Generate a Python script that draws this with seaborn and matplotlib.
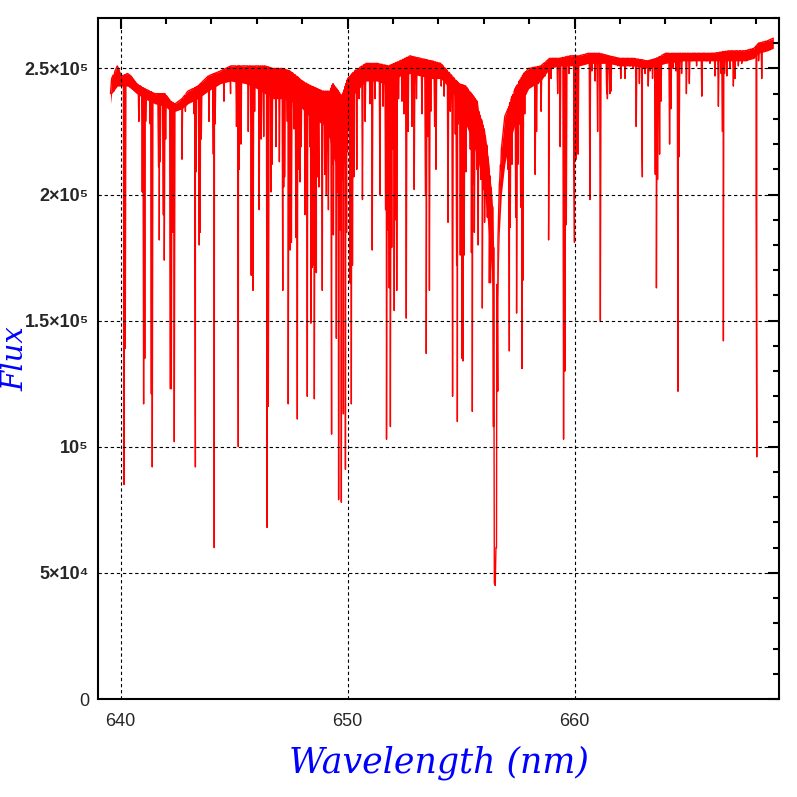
import numpy as np
import pandas as pd
import matplotlib
matplotlib.use("Agg")
import matplotlib.pyplot as plt
import seaborn as sns
from matplotlib.ticker import FixedLocator, MultipleLocator

# upper envelope of the spectrum (nm, flux in units of 1e3)
cont_wl = [639.55, 639.6, 639.85, 640.05, 640.3, 640.45, 640.7, 641.05, 641.5, 641.95,
           642.2, 642.4, 642.7, 642.96, 643.4, 643.85, 644.4, 644.85, 645.5, 646.0,
           646.35, 646.7, 647.1, 647.45, 647.75, 648.0, 648.4, 648.9, 649.2, 649.35,
           649.75, 650.0, 650.3, 650.8, 651.3, 651.8, 652.3, 652.75, 653.2, 653.7,
           654.1, 654.5, 654.9, 655.2, 655.45, 655.7, 655.77, 655.92, 656.03, 656.15,
           656.24, 656.33, 656.39, 656.43, 656.46, 656.5, 656.53, 656.555, 656.57, 656.62,
           656.68, 656.77, 656.83, 656.92, 657.06, 657.24, 657.38, 657.56, 657.75, 657.97,
           658.5, 658.9, 659.3, 659.8, 660.2, 660.6, 661.1, 661.5, 662.0, 662.6,
           663.2, 663.6, 664.0, 664.8, 665.5, 666.1, 666.8, 667.5, 667.9, 668.1,
           668.5, 668.75]
cont_flux = [240, 246, 251, 247, 248, 247, 244, 242, 240, 240,
             237, 236, 238, 241, 243, 247, 249, 251, 251, 251,
             251, 250, 250, 249, 247, 245, 243, 241, 241, 244,
             239, 246, 249, 252, 252, 251, 253, 255, 254, 253,
             252, 248, 244, 243, 240, 237, 233, 229, 225, 218,
             209, 202, 194, 179, 46, 45, 60, 60, 160, 182,
             204, 218, 223, 231, 234, 239, 242, 245, 248, 250,
             251, 254, 254, 255, 255, 256, 256, 255, 254, 254,
             253, 254, 256, 256, 256, 256, 257, 257, 258, 260,
             261, 262]
# lower edge of the solid band of blended weak lines (same wavelengths)
band_low = [236, 240, 243, 243, 243, 242, 240, 238, 236, 235,
            233, 233, 234, 236, 238, 241, 244, 245, 244, 242,
            240, 238, 238, 237, 236, 234, 230, 228, 222, 215,
            205, 225, 240, 245, 245, 243, 247, 248, 247, 246,
            246, 242, 236, 228, 222, 215, 212, 205, 200, 190,
            180, 170, 160, 140, 46, 45, 60, 60, 150, 165,
            185, 200, 205, 212, 218, 224, 228, 232, 238, 242,
            245, 250, 251, 251, 251, 252, 252, 252, 251, 251,
            250, 251, 252, 253, 253, 253, 253, 253, 254, 256,
            257, 258]

# absorption lines: centre (nm) and flux at the line bottom (1e3)
line_wl = [639.7, 639.97, 640.15, 640.2, 640.8, 640.95, 641.01, 641.06, 641.1, 641.3,
           641.35, 641.39, 641.67, 641.7, 641.74, 641.88, 641.92, 641.98, 642.19, 642.23,
           642.29, 642.36, 642.7, 642.85, 643.23, 643.29, 643.32, 643.46, 643.5, 643.55,
           643.89, 644.08, 644.12, 644.16, 644.55, 644.84, 645.1, 645.18, 645.22, 645.3,
           645.62, 645.75, 645.83, 645.9, 646.1, 646.19, 646.3, 646.45, 646.5, 646.53,
           646.62, 646.67, 646.84, 646.99, 647.14, 647.18, 647.22, 647.34, 647.38, 647.46,
           647.52, 647.63, 647.72, 647.78, 647.83, 647.9, 647.95, 648.12, 648.22, 648.27,
           648.33, 648.38, 648.44, 648.48, 648.53, 648.59, 648.62, 648.66, 648.73, 648.77,
           648.88, 648.99, 649.06, 649.15, 649.22, 649.29, 649.33, 649.37, 649.43, 649.5,
           649.55, 649.6, 649.67, 649.72, 649.77, 649.81, 649.86, 649.9, 649.95, 649.99,
           650.11, 650.16, 650.21, 650.27, 650.4, 650.5, 650.65, 650.77, 650.98, 651.08,
           651.2, 651.42, 651.56, 651.67, 651.71, 651.77, 651.83, 651.88, 651.94, 651.99,
           652.05, 652.11, 652.16, 652.24, 652.39, 652.48, 652.58, 652.66, 652.83, 652.93,
           653.03, 653.27, 653.43, 653.46, 653.54, 653.6, 653.66, 653.83, 653.89, 654.0,
           654.12, 654.25, 654.42, 654.52, 654.62, 654.74, 654.8, 654.83, 654.87, 654.96,
           655.04, 655.08, 655.13, 655.21, 655.34, 655.4, 655.45, 655.49, 655.54, 655.58,
           655.64, 655.69, 655.75, 655.8, 655.86, 655.93, 655.99, 656.03, 656.1, 656.15,
           656.24, 656.29, 656.35, 656.42, 656.61, 656.7, 656.74, 656.83, 657.06, 657.12,
           657.16, 657.24, 657.3, 657.4, 657.44, 657.5, 657.56, 657.62, 657.68, 657.72,
           657.8, 657.86, 658.05, 658.26, 658.32, 658.4, 658.52, 658.7, 658.85, 658.88,
           658.96, 659.25, 659.36, 659.51, 659.57, 659.63, 659.75, 659.96, 659.99, 660.06,
           660.15, 660.45, 660.67, 660.76, 660.9, 661.01, 661.13, 661.41, 661.44, 661.55,
           661.6, 661.82, 661.9, 662.03, 662.22, 662.44, 662.58, 662.71, 662.85, 662.95,
           662.98, 663.1, 663.24, 663.32, 663.43, 663.55, 663.6, 663.65, 663.74, 663.8,
           663.98, 664.18, 664.24, 664.34, 664.46, 664.55, 664.6, 664.71, 664.92, 665.05,
           665.15, 665.37, 665.6, 665.81, 665.96, 666.18, 666.33, 666.45, 666.51, 666.55,
           666.6, 666.7, 666.84, 666.99, 667.06, 667.21, 667.36, 667.58, 667.8, 667.99,
           668.02, 668.1, 668.24, 668.46]
line_flux = [241, 246, 85, 139, 229, 201, 117, 135, 229, 228,
             121, 92, 211, 182, 213, 192, 174, 222, 123, 123,
             185, 102, 214, 233, 232, 92, 209, 180, 185, 222,
             229, 216, 60, 228, 237, 240, 227, 100, 210, 220,
             225, 168, 162, 233, 194, 222, 223, 68, 116, 210,
             201, 212, 219, 213, 162, 203, 207, 229, 117, 178,
             181, 226, 183, 111, 210, 205, 219, 192, 120, 232,
             219, 149, 171, 172, 119, 176, 169, 207, 203, 233,
             162, 208, 200, 194, 224, 105, 212, 184, 215, 143,
             201, 79, 186, 78, 223, 113, 227, 91, 185, 217,
             165, 117, 172, 207, 210, 238, 198, 229, 236, 178,
             238, 200, 235, 194, 103, 186, 163, 108, 179, 218,
             154, 190, 162, 238, 237, 232, 151, 225, 227, 202,
             238, 232, 200, 137, 223, 162, 233, 227, 210, 246,
             243, 239, 189, 233, 120, 224, 172, 110, 228, 176,
             135, 134, 176, 209, 231, 218, 177, 114, 204, 185,
             224, 210, 180, 214, 206, 155, 202, 189, 208, 191,
             165, 165, 179, 108, 122, 206, 210, 224, 210, 138,
             187, 212, 231, 191, 153, 212, 228, 195, 131, 166,
             232, 240, 245, 208, 225, 244, 233, 247, 182, 240,
             246, 240, 219, 103, 130, 188, 248, 219, 181, 214,
             216, 252, 198, 249, 245, 225, 150, 240, 238, 240,
             241, 253, 251, 246, 246, 251, 250, 227, 244, 227,
             207, 248, 243, 249, 246, 208, 163, 206, 216, 237,
             252, 220, 234, 250, 249, 122, 215, 248, 240, 244,
             253, 251, 239, 253, 252, 247, 235, 248, 225, 142,
             248, 247, 250, 243, 246, 251, 252, 253, 254, 203,
             96, 253, 246, 258]

y_ticks = [0, 5e4, 1e5, 1.5e5, 2e5, 2.5e5]
y_labels = ['0', '5×10⁴', '10⁵', '1.5×10⁵', '2×10⁵', '2.5×10⁵']
x_ticks = [640, 650, 660]

# build the trace: each line is drawn as a narrow dip out of the envelope
half_w = 0.03
cw = np.array(cont_wl)
cf = np.array(cont_flux, dtype=float)
lc = np.array(line_wl)
lb = np.minimum(np.array(line_flux, dtype=float), np.interp(lc, cw, cf))
wl = np.concatenate([cw, lc - half_w, lc, lc + half_w])
fl = np.concatenate([cf, np.interp(lc - half_w, cw, cf), lb, np.interp(lc + half_w, cw, cf)])
order = np.argsort(wl, kind='stable')
df = pd.DataFrame({'wavelength': wl[order], 'flux': fl[order] * 1e3})

sns.set_style("white")
plt.rcParams['font.family'] = ['Liberation Sans', 'DejaVu Sans']

fig = plt.figure(figsize=(7.97, 7.97), dpi=100)
ax = fig.add_axes([98 / 797, 98 / 797, 681 / 797, 681 / 797])

# dense forest of weak lines shows up as a solid band under the envelope
ax.fill_between(cont_wl, np.array(band_low) * 1e3, cf * 1e3, color='red', linewidth=0)
sns.lineplot(data=df, x='wavelength', y='flux', color='red', linewidth=1.0,
             estimator=None, sort=False, ax=ax)

ax.set_xlim(639, 669)
ax.set_ylim(0, 2.7e5)

ax.xaxis.set_major_locator(FixedLocator(x_ticks))
ax.xaxis.set_minor_locator(MultipleLocator(2))
ax.set_xticklabels([str(t) for t in x_ticks], fontsize=13)
ax.yaxis.set_major_locator(FixedLocator(y_ticks))
ax.yaxis.set_minor_locator(MultipleLocator(1e4))
ax.set_yticklabels(y_labels, fontsize=13, fontweight='bold')
ax.get_yticklabels()[0].set_fontweight('normal')

ax.tick_params(which='both', direction='in', top=True, right=True, width=1.5, color='black')
ax.tick_params(which='major', length=8)
ax.tick_params(which='minor', length=4)
ax.tick_params(axis='x', pad=10)
ax.tick_params(axis='y', pad=6.5)

for sp in ax.spines.values():
    sp.set_linewidth(1.5)
    sp.set_color('black')

ax.grid(True, which='major', color='black', linestyle=(0, (3, 2.5)), linewidth=0.8)
ax.set_axisbelow(False)

label_font = dict(color='blue', style='italic', family='DejaVu Serif')
ax.set_xlabel('Wavelength (nm)', fontsize=25, **label_font)
ax.set_ylabel('Flux', fontsize=21, **label_font)
ax.xaxis.set_label_coords(0.5, -0.0675)
ax.yaxis.set_label_coords(-0.101, 0.5)

fig.savefig('out.png', dpi=100)
